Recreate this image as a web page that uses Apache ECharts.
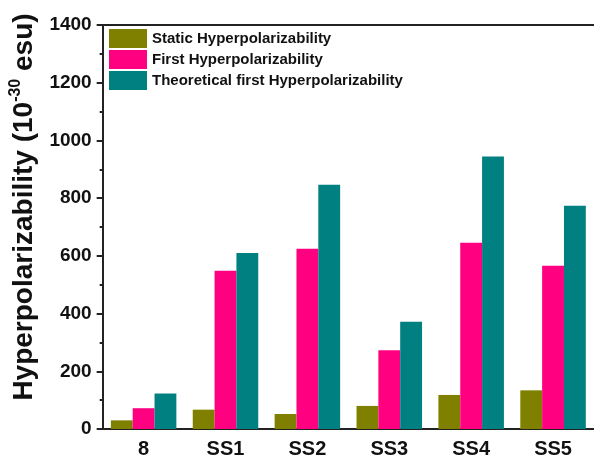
<!DOCTYPE html>
<html>
<head>
<meta charset="utf-8">
<script src="https://cdn.jsdelivr.net/npm/echarts@6/dist/echarts.min.js"></script>
<style>
  html, body { margin: 0; padding: 0; background: #fff; }
  #chart { width: 594px; height: 459px; }
</style>
</head>
<body>
<div id="chart"></div>
<script>
// Compounds on the x axis
const categories = ['8', 'SS1', 'SS2', 'SS3', 'SS4', 'SS5'];

// Hyperpolarizability values (10^-30 esu)
const staticHyper = [30, 67, 52, 80, 118, 134];
const firstHyper = [72, 548, 625, 273, 645, 566];
const theoreticalHyper = [123, 610, 846, 372, 944, 774];

const seriesNames = [
  'Static Hyperpolarizability',
  'First Hyperpolarizability',
  'Theoretical first Hyperpolarizability'
];
const seriesColors = ['#808000', '#ff0080', '#008080'];

// Y axis range and step
const yMin = 0, yMax = 1400, yStep = 200;

const FONT = '"Liberation Sans", Arial, sans-serif';
const AXIS_COLOR = '#222';

const gridBox = { left: 101, right: -3, top: 25, bottom: 30 };

const chart = echarts.init(document.getElementById('chart'), null, { renderer: 'canvas' });

chart.setOption({
  backgroundColor: '#fff',
  animation: false,
  legend: {
    orient: 'vertical',
    left: 109,
    top: 29,
    padding: 0,
    itemWidth: 38,
    itemHeight: 19,
    itemGap: 2,
    icon: 'rect',
    data: seriesNames,
    textStyle: { fontFamily: FONT, fontWeight: 'bold', fontSize: 15, color: '#111' }
  },
  grid: [
    Object.assign({}, gridBox),
    Object.assign({}, gridBox)
  ],
  xAxis: [
    {
      type: 'category',
      gridIndex: 0,
      position: 'bottom',
      data: categories,
      axisLine: { lineStyle: { color: AXIS_COLOR, width: 2 } },
      axisTick: { alignWithLabel: true, length: 7, lineStyle: { color: AXIS_COLOR, width: 2 } },
      axisLabel: { fontFamily: FONT, fontWeight: 'bold', fontSize: 20, color: '#111', margin: 10 },
      splitLine: { show: false }
    },
    {
      // plain frame line along the top
      type: 'category',
      gridIndex: 0,
      position: 'top',
      data: categories,
      axisLine: { lineStyle: { color: AXIS_COLOR, width: 2 } },
      axisTick: { show: false },
      axisLabel: { show: false },
      splitLine: { show: false }
    },
    {
      // short ticks on the category boundaries
      type: 'category',
      gridIndex: 1,
      position: 'bottom',
      data: categories,
      axisLine: { show: false },
      axisTick: { length: 4, lineStyle: { color: AXIS_COLOR, width: 2 } },
      axisLabel: { show: false },
      splitLine: { show: false }
    }
  ],
  yAxis: [
    {
      type: 'value',
      gridIndex: 0,
      min: yMin,
      max: yMax,
      interval: yStep,
      name: '{a|Hyperpolarizability (10}{b|-30}{a| esu)}',
      nameLocation: 'middle',
      nameGap: 52,
      nameTextStyle: {
        padding: [0, 0, 0, 40],
        rich: {
          a: { fontFamily: FONT, fontWeight: 'bold', fontSize: 28, color: '#111', lineHeight: 33 },
          b: { fontFamily: FONT, fontWeight: 'bold', fontSize: 16, color: '#111', verticalAlign: 'top', lineHeight: 16 }
        }
      },
      axisLine: { show: true, lineStyle: { color: AXIS_COLOR, width: 2 } },
      axisTick: { show: true, length: 6, lineStyle: { color: AXIS_COLOR, width: 2 } },
      minorTick: { show: true, splitNumber: 2, length: 3, lineStyle: { color: AXIS_COLOR, width: 2 } },
      axisLabel: {
        fontFamily: FONT, fontWeight: 'bold', fontSize: 19, color: '#111', margin: 11,
        formatter: v => String(v)
      },
      splitLine: { show: false }
    },
    {
      type: 'value',
      gridIndex: 1,
      min: yMin,
      max: yMax,
      show: false
    }
  ],
  series: [staticHyper, firstHyper, theoreticalHyper].map((vals, i) => ({
    name: seriesNames[i],
    type: 'bar',
    xAxisIndex: 0,
    yAxisIndex: 0,
    data: vals,
    barGap: '0%',
    barCategoryGap: '20%',
    itemStyle: { color: seriesColors[i] }
  }))
});
</script>
</body>
</html>
